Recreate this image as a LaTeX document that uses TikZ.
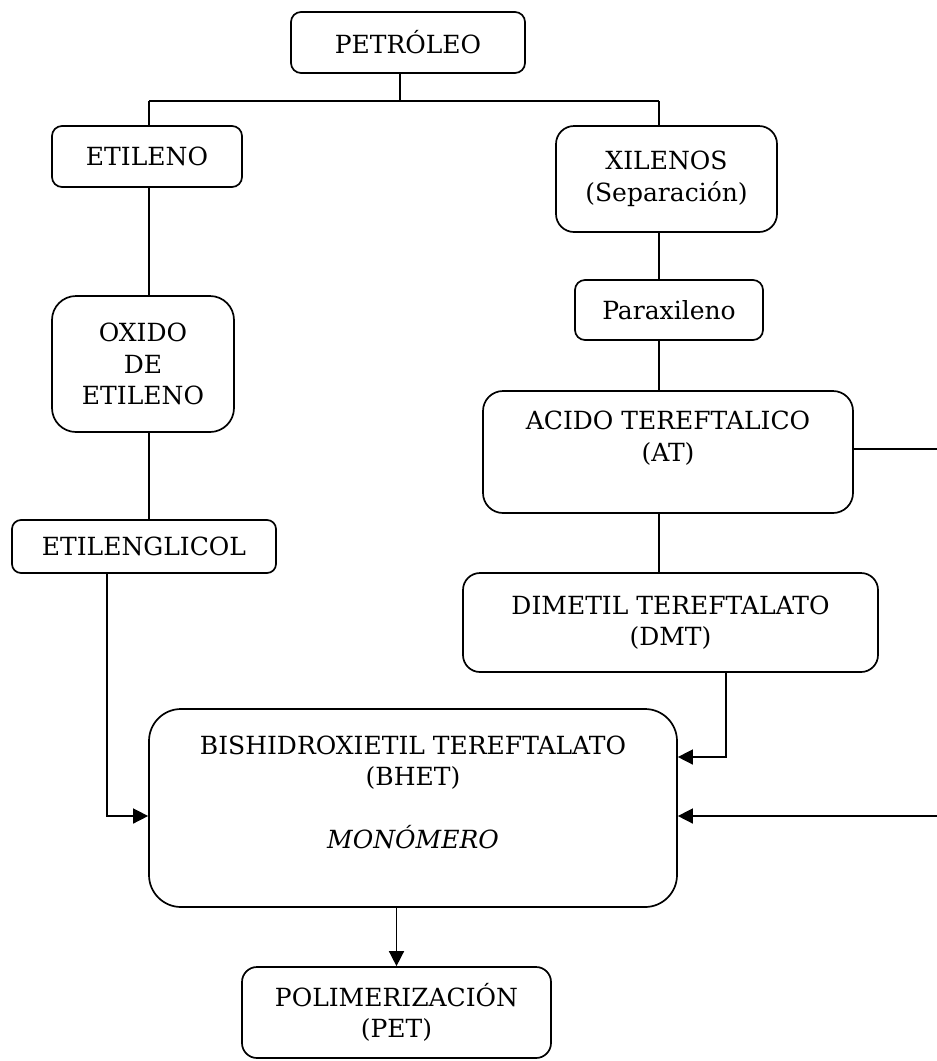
\documentclass[tikz,border=0pt]{standalone}
\usepackage{fontspec}
\setmainfont{DejaVu Serif}
\usetikzlibrary{arrows.meta}

\begin{document}
\begin{tikzpicture}[x=1pt,y=-1pt,line width=1.5pt,>={Triangle[length=15pt,width=15pt]}]
		\tikzstyle{caja}=[draw,rounded corners=10pt,line width=1.7pt,align=center,inner sep=0pt,font=\fontsize{25}{31.5}\selectfont]
		\useasboundingbox (0,0) rectangle (937,1061);

		\node[caja,minimum width=234pt,minimum height=61pt] (petroleo) at (408,42.5) {PETRÓLEO};
		\node[caja,minimum width=190pt,minimum height=61pt] (etileno) at (147,156.5) {ETILENO};
		\node[caja,minimum width=221pt,minimum height=106pt,rounded corners=18pt] (xilenos) at (666.5,179) {XILENOS\\(Separación)};
		\node[caja,minimum width=188pt,minimum height=60pt] (paraxileno) at (669,310) {Paraxileno};
		\node[caja,minimum width=182pt,minimum height=136pt,rounded corners=24pt] (oxido) at (143,364) {OXIDO\\DE\\ETILENO};
		\node[caja,minimum width=264pt,minimum height=53pt,rounded corners=9pt] (glicol) at (144,546.5) {ETILENGLICOL};
		\node[caja,minimum width=370pt,minimum height=122pt,rounded corners=20pt] (acido) at (668,452) {ACIDO TEREFTALICO\\(AT)\\~};
		\node[caja,minimum width=415pt,minimum height=99pt,rounded corners=17pt] (dmt) at (670.5,622.5) {DIMETIL TEREFTALATO\\(DMT)};
		\node[caja,minimum width=528pt,minimum height=198pt,rounded corners=32pt] (bhet) at (413,808) {BISHIDROXIETIL TEREFTALATO\\(BHET)\\~\\\textit{MONÓMERO}\\~};
		\node[caja,minimum width=309pt,minimum height=91pt,rounded corners=15pt] (polimer) at (396.5,1012.5) {POLIMERIZACIÓN\\(PET)};

		\coordinate (bus) at (400,101);
		\coordinate (izq) at (149,101);
		\coordinate (der) at (659,101);
		\coordinate (borde1) at (937,449);
		\coordinate (borde2) at (937,816);
		\coordinate (codo1) at (107,816);
		\coordinate (codo2) at (726,757);

		\draw (petroleo.south -| bus) -- (bus);
		\draw (izq) -- (der);
		\draw (izq) -- (etileno.north -| izq);
		\draw (der) -- (xilenos.north -| der);
		\draw (etileno.south -| izq) -- (oxido.north -| izq);
		\draw (oxido.south -| izq) -- (glicol.north -| izq);
		\draw (xilenos.south -| der) -- (paraxileno.north -| der);
		\draw (paraxileno.south -| der) -- (acido.north -| der);
		\draw (acido.south -| der) -- (dmt.north -| der);
		\draw (acido.east |- borde1) -- (borde1);
		\draw[->] (glicol.south -| codo1) |- (bhet.west |- codo1);
		\draw[->] (dmt.south -| codo2) |- (bhet.east |- codo2);
		\draw[->] (borde2) -- (bhet.east |- borde2);
		\draw[->] (bhet.south -| polimer.north) -- (polimer.north);
\end{tikzpicture}
\end{document}
